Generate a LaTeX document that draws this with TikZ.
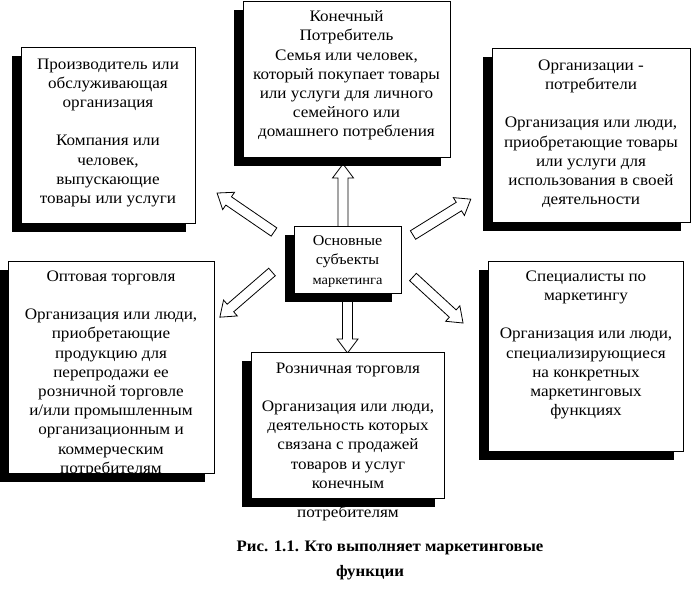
\documentclass[tikz,border=0pt]{standalone}
\usepackage{fontspec}
\setmainfont{Liberation Serif}[FakeStretch=1.07]
\newfontfamily\capfont{Liberation Serif}[FakeStretch=1.05]
\usetikzlibrary{shadows}
\begin{document}
\begin{tikzpicture}[x=1pt,y=-1pt,
  box/.style={draw=black, line width=0.9pt, fill=white, rectangle, inner sep=0pt, anchor=north west,
    general shadow={fill=black, draw=none, shadow xshift=-9pt, shadow yshift=-9pt}},
  txt/.style={align=center, inner sep=0pt, anchor=north,
    font=\fontsize{16}{19.2}\selectfont, execute at begin node=\strut},
  arrowline/.style={draw=black, line width=0.8pt, fill=white, line join=miter},
  pics/blockarrow/.style={code={
    \path[arrowline] (0,-5) -- ({#1-14},-5) -- ({#1-14},-10.5) -- (#1,0)
      -- ({#1-14},10.5) -- ({#1-14},5) -- (0,5) -- cycle;}},
  captxt/.style={inner sep=0pt, font=\capfont\fontsize{16}{19}\selectfont\bfseries}
]
\useasboundingbox (0,0) rectangle (691,589);

% block arrows from the centre box
\pic[rotate=90]    (aup) at (343,229)   {blockarrow=65};
\pic[rotate=-90]   (adn) at (347.5,298) {blockarrow=55};
\pic[rotate=145.6] (aul) at (274,232)   {blockarrow=69};
\pic[rotate=31.8]  (aur) at (413,235)   {blockarrow=68};
\pic[rotate=220.9] (adl) at (272,272)   {blockarrow=69};
\pic[rotate=-42.6] (adr) at (413,277)   {blockarrow=68};

% boxes
\node[box, minimum width=174pt, minimum height=176pt] (b1) at (21,47) {};
\node[box, minimum width=207pt, minimum height=156pt] (b2) at (243,1) {};
\node[box, minimum width=198pt, minimum height=174pt] (b3) at (492,48) {};
\node[box, minimum width=206pt, minimum height=212pt] (b4) at (8,261) {};
\node[box, minimum width=193pt, minimum height=146pt] (b5) at (251,352) {};
\node[box, minimum width=195pt, minimum height=190pt] (b6) at (488,261) {};
\node[box, minimum width=107pt, minimum height=67pt]  (bc) at (294,226) {};

% texts
\node[txt] (t1) at (108,58.5) {Производитель или\\ обслуживающая\\ организация\\[19.2pt]
  Компания или\\ человек,\\ выпускающие\\ товары или услуги};
\node[txt] (t2) at (346.5,10.5) {Конечный\\ Потребитель\\ Семья или человек,\\
  который покупает товары\\ или услуги для личного\\ семейного или\\ домашнего потребления};
\node[txt] (t3) at (591,59.5) {Организации -\\ потребители\\[19.2pt]
  Организация или люди,\\ приобретающие товары\\ или услуги для\\ использования в своей\\ деятельности};
\node[txt] (t4) at (111,270.5) {Оптовая торговля\\[19.2pt]
  Организация или люди,\\ приобретающие\\ продукцию для\\ перепродажи ее\\ розничной торговле\\
  и/или промышленным\\ организационным и\\ коммерческим\\ потребителям};
\node[txt] (t5) at (348,362.5) {Розничная торговля\\[19.2pt]
  Организация или люди,\\ деятельность которых\\ связана с продажей\\ товаров и услуг\\ конечным\\[10pt]
  потребителям};
\node[txt] (t6) at (586,270.5) {Специалисты по\\ маркетингу\\[19.2pt]
  Организация или люди,\\ специализирующиеся\\ на конкретных\\ маркетинговых\\ функциях};
\node[txt] (tc) at (347.5,235.5) {\fontsize{15}{19}\selectfont Основные\\
  \fontsize{15}{19}\selectfont субъекты\\ \fontsize{13.5}{19}\selectfont маркетинга};

% caption
\node[captxt] (c1) at (390,548) {Рис. 1.1. Кто выполняет маркетинговые};
\node[captxt] (c2) at (370,573) {функции};
\end{tikzpicture}
\end{document}
